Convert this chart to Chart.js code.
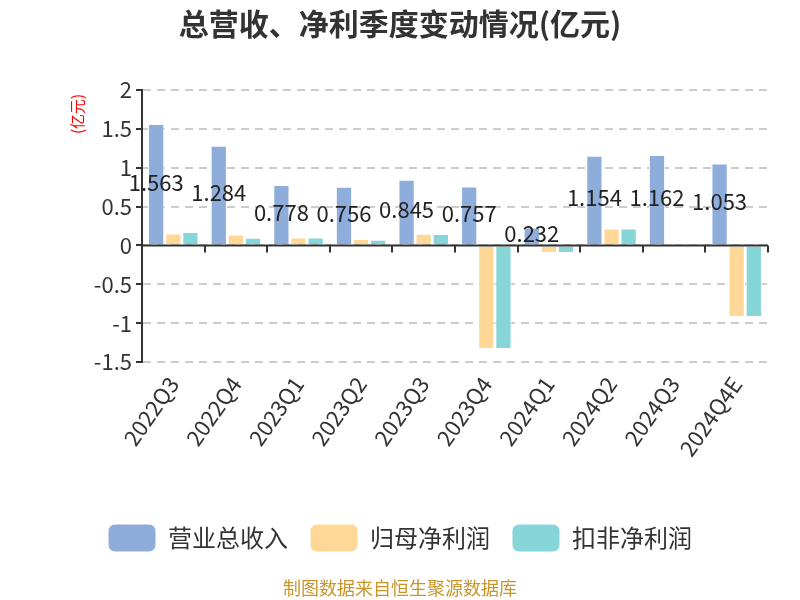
<!DOCTYPE html>
<html>
<head>
<meta charset="utf-8">
<script src="https://cdn.jsdelivr.net/npm/chart.js@4"></script>
<style>
  html, body { margin: 0; padding: 0; background: #fff; }
  #wrap { width: 800px; height: 600px; position: relative; }
</style>
</head>
<body>
<div id="wrap"><canvas id="chart" width="800" height="600"></canvas></div>
<script>
// quarters + three series (亿元)
var quarters = ['2022Q3', '2022Q4', '2023Q1', '2023Q2', '2023Q3', '2023Q4', '2024Q1', '2024Q2', '2024Q3', '2024Q4E'];
var revenue = [1.563, 1.284, 0.778, 0.756, 0.845, 0.757, 0.232, 1.154, 1.162, 1.053];
var netProfit = [0.155, 0.142, 0.103, 0.082, 0.150, -1.333, -0.099, 0.219, 0.005, -0.920];
var deductedProfit = [0.172, 0.099, 0.103, 0.073, 0.146, -1.333, -0.099, 0.219, 0.017, -0.920];
var seriesNames = ['营业总收入', '归母净利润', '扣非净利润'];
var colors = ['#8EADDB', '#FFD897', '#86D5D9'];

var FONT = '"Microsoft YaHei", "Noto Sans CJK SC", "Noto Sans", sans-serif';

// zero line with downward ticks at category boundaries, unit label, footer
var zeroAxis = {
  id: 'zeroAxis',
  afterDatasetsDraw: function (chart) {
    var ctx = chart.ctx;
    var y = chart.scales.y;
    var y0 = y.getPixelForValue(0);
    ctx.save();
    ctx.strokeStyle = '#333';
    ctx.lineWidth = 2;
    ctx.beginPath();
    ctx.moveTo(chart.chartArea.left, y0);
    ctx.lineTo(chart.chartArea.right, y0);
    ctx.stroke();
    var step = (chart.chartArea.right - chart.chartArea.left) / quarters.length;
    for (var i = 1; i <= quarters.length; i++) {
      var px = Math.round(chart.chartArea.left + step * i);
      ctx.beginPath();
      ctx.moveTo(px, y0);
      ctx.lineTo(px, y0 + 7);
      ctx.stroke();
    }
    ctx.restore();
  },
  afterDraw: function (chart) {
    var ctx = chart.ctx;
    ctx.save();
    // unit label, rotated, near top of the y axis
    ctx.translate(77, chart.chartArea.top + 24);
    ctx.rotate(-Math.PI / 2);
    ctx.fillStyle = '#ff0000';
    ctx.font = '15px ' + FONT;
    ctx.textAlign = 'center';
    ctx.textBaseline = 'middle';
    ctx.fillText('(亿元)', 0, 0);
    ctx.restore();

    ctx.save();
    ctx.fillStyle = '#C8952A';
    ctx.font = '18px ' + FONT;
    ctx.textAlign = 'center';
    ctx.textBaseline = 'middle';
    ctx.fillText('制图数据来自恒生聚源数据库', 400, 588);
    ctx.restore();
  }
};

// revenue value labels at half bar height
var valueLabels = {
  id: 'valueLabels',
  afterDatasetsDraw: function (chart) {
    var ctx = chart.ctx;
    var meta = chart.getDatasetMeta(0);
    ctx.save();
    ctx.fillStyle = '#222';
    ctx.font = '22px ' + FONT;
    ctx.textAlign = 'center';
    ctx.textBaseline = 'middle';
    meta.data.forEach(function (bar, i) {
      var yMid = (bar.y + bar.base) / 2;
      ctx.fillText(String(revenue[i]), bar.x, yMid - 2);
    });
    ctx.restore();
  }
};

var chart = new Chart(document.getElementById('chart'), {
  type: 'bar',
  data: {
    labels: quarters,
    datasets: [
      { label: seriesNames[0], data: revenue, backgroundColor: colors[0] },
      { label: seriesNames[1], data: netProfit, backgroundColor: colors[1] },
      { label: seriesNames[2], data: deductedProfit, backgroundColor: colors[2] }
    ]
  },
  options: {
    responsive: false,
    animation: false,
    layout: { padding: { left: 32, right: 32, top: 0, bottom: 38 } },
    datasets: {
      bar: {
        borderColor: '#fff',
        borderWidth: 1,
        categoryPercentage: 0.82,
        barPercentage: 0.95
      }
    },
    scales: {
      x: {
        grid: { display: false },
        border: { display: false },
        ticks: {
          color: '#333',
          font: { size: 22, family: FONT },
          minRotation: 55,
          maxRotation: 55,
          padding: 2
        },
        afterFit: function (scale) { scale.height = 140; }
      },
      y: {
        min: -1.5,
        max: 2,
        ticks: {
          stepSize: 0.5,
          color: '#333',
          font: { size: 22, family: FONT },
          padding: 4,
          callback: function (v) { return String(v); }
        },
        grid: {
          color: '#ccc',
          tickColor: '#333',
          tickLength: 6,
          lineWidth: 2
        },
        border: { display: true, color: '#333', width: 2, dash: [8, 6] },
        afterFit: function (scale) { scale.width = 110; }
      }
    },
    plugins: {
      title: {
        display: true,
        text: '总营收、净利季度变动情况(亿元)',
        color: '#333',
        font: { size: 30, weight: 'bold', family: FONT },
        padding: { top: 6, bottom: 48 }
      },
      legend: {
        position: 'bottom',
        labels: {
          color: '#333',
          font: { size: 24, family: FONT },
          boxWidth: 48,
          boxHeight: 28,
          useBorderRadius: true,
          borderRadius: 7,
          padding: 22
        }
      },
      tooltip: { enabled: false }
    }
  },
  plugins: [zeroAxis, valueLabels]
});
</script>
</body>
</html>
